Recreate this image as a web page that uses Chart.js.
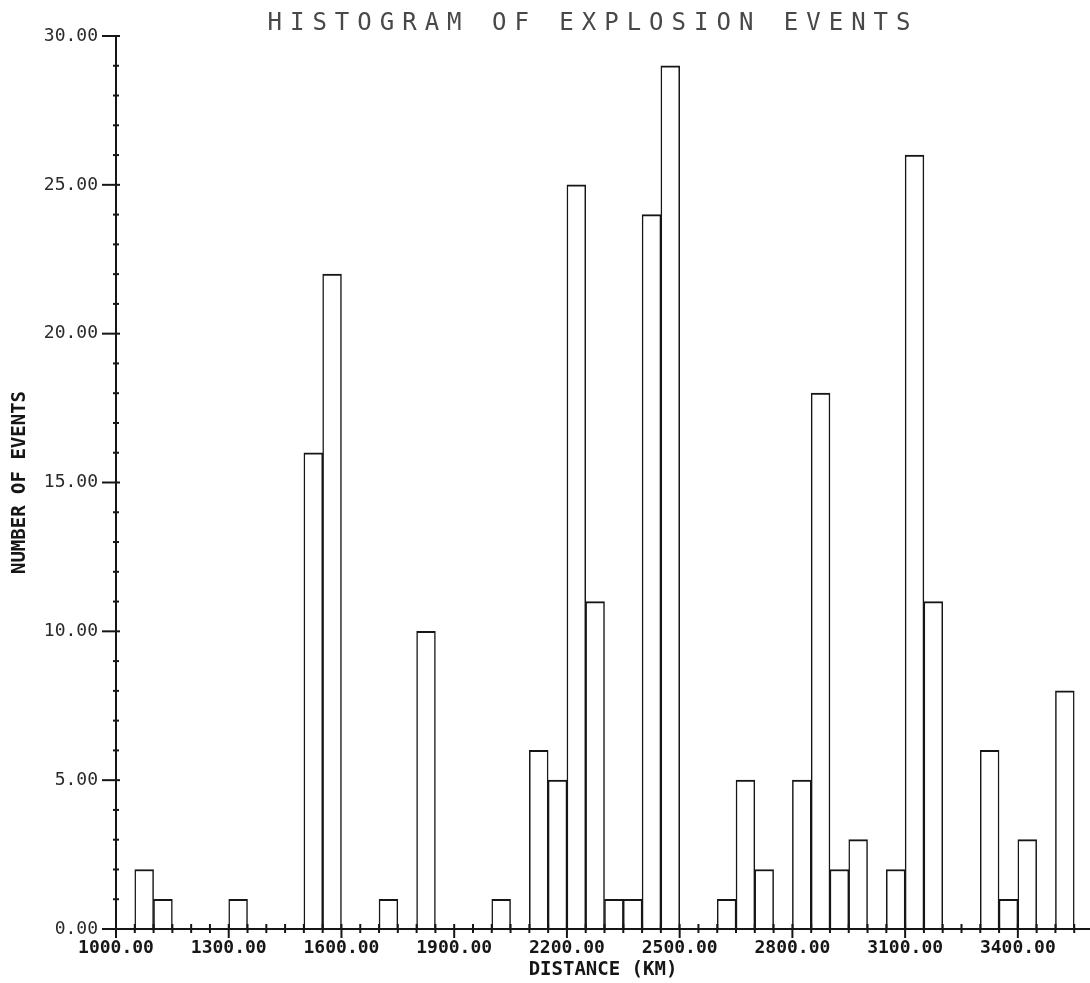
<!DOCTYPE html>
<html lang="en">
  <head>
    <meta charset="UTF-8" />
    <title>Histogram of explosion events</title>
    <script src="https://cdn.jsdelivr.net/npm/chart.js@4.4.1/dist/chart.umd.min.js"></script>
    <style>
      body { margin: 0; background: #ffffff; }
      #wrap { width: 1090px; height: 983px; }
    </style>
  </head>
  <body>
    <div id="wrap"><canvas id="histo" width="1090" height="983"></canvas></div>
    <script>
      // 50 km distance bins (start of each bin) and event counts per bin
      var binStarts = [
        1000, 1050, 1100, 1150, 1200, 1250, 1300, 1350, 1400, 1450,
        1500, 1550, 1600, 1650, 1700, 1750, 1800, 1850, 1900, 1950,
        2000, 2050, 2100, 2150, 2200, 2250, 2300, 2350, 2400, 2450,
        2500, 2550, 2600, 2650, 2700, 2750, 2800, 2850, 2900, 2950,
        3000, 3050, 3100, 3150, 3200, 3250, 3300, 3350, 3400, 3450,
        3500
      ];
      var counts = [
        0, 2, 1, 0, 0, 0, 1, 0, 0, 0,
        16, 22, 0, 0, 1, 0, 10, 0, 0, 0,
        1, 0, 6, 5, 25, 11, 1, 1, 24, 29,
        0, 0, 1, 5, 2, 0, 5, 18, 2, 3,
        0, 2, 26, 11, 0, 0, 6, 1, 3, 0,
        8
      ];
      var binWidth = 50;
      // labelled distances on the x axis, labelled counts on the y axis
      var distanceLabels = [1000, 1300, 1600, 1900, 2200, 2500, 2800, 3100, 3400];
      var countLabels = [0, 5, 10, 15, 20, 25, 30];

      var ink = "#161616";
      var mono = "'DejaVu Sans Mono', monospace";

      // title in the thin, widely spaced plotter lettering
      var plotterTitle = {
        id: "plotterTitle",
        afterDraw: function (chart) {
          var ctx = chart.ctx;
          ctx.save();
          ctx.font = "24px " + mono;
          ctx.fillStyle = "#484848";
          ctx.textAlign = "center";
          ctx.textBaseline = "middle";
          if ("letterSpacing" in ctx) ctx.letterSpacing = "8px";
          ctx.fillText("HISTOGRAM OF EXPLOSION EVENTS", 593, 24);
          ctx.restore();
        }
      };

      // axis lines with cross-style tick marks (minor every bin / every event)
      var plotterAxes = {
        id: "plotterAxes",
        afterDatasetsDraw: function (chart) {
          var ctx = chart.ctx;
          var x = chart.scales.x;
          var y = chart.scales.y;
          var y0 = y.getPixelForValue(0);
          var yTop = y.getPixelForValue(y.max);
          var xl = x.getPixelForValue(x.min);
          ctx.save();
          ctx.strokeStyle = ink;
          ctx.lineWidth = 2;
          ctx.beginPath();
          ctx.moveTo(xl, y0);
          ctx.lineTo(x.right, y0);
          ctx.moveTo(xl, yTop);
          ctx.lineTo(xl, y0);
          ctx.stroke();

          x.ticks.forEach(function (t) {
            var px = x.getPixelForValue(t.value);
            var major = distanceLabels.indexOf(t.value) >= 0;
            ctx.beginPath();
            ctx.moveTo(px, y0 - 5);
            ctx.lineTo(px, y0 + (major ? 9 : 4));
            ctx.stroke();
          });

          for (var v = y.min; v <= y.max; v++) {
            var py = y.getPixelForValue(v);
            var major = countLabels.indexOf(v) >= 0;
            ctx.beginPath();
            ctx.moveTo(xl - (major ? 14 : 3), py);
            ctx.lineTo(xl + (major ? 4 : 3), py);
            ctx.stroke();
          }
          ctx.restore();
        }
      };

      new Chart(document.getElementById("histo"), {
        type: "bar",
        data: {
          datasets: [
            {
              data: binStarts.map(function (s, i) {
                return { x: s + binWidth / 2, y: counts[i] };
              }),
              backgroundColor: "#ffffff",
              borderColor: ink,
              borderWidth: { top: 2, left: 1.5, right: 1.5, bottom: 0 },
              borderSkipped: "start",
              barPercentage: 1,
              categoryPercentage: 1
            }
          ]
        },
        options: {
          responsive: false,
          animation: false,
          layout: { padding: { top: 36, right: 0, bottom: 0, left: 0 } },
          plugins: {
            legend: { display: false },
            tooltip: { enabled: false }
          },
          scales: {
            x: {
              type: "linear",
              offset: false,
              min: 1000,
              max: 3592,
              grid: { display: false, drawTicks: false },
              border: { display: false },
              ticks: {
                stepSize: binWidth,
                includeBounds: false,
                autoSkip: false,
                maxRotation: 0,
                padding: 9,
                color: ink,
                font: { family: mono, size: 18, weight: "bold" },
                callback: function (v) {
                  return distanceLabels.indexOf(v) >= 0 ? v.toFixed(2) : "";
                }
              },
              title: {
                display: true,
                text: "DISTANCE (KM)",
                color: ink,
                font: { family: mono, size: 19, weight: "bold" },
                padding: { top: 0, bottom: 2 }
              },
              afterFit: function (s) { s.height = 54; }
            },
            y: {
              min: 0,
              max: 30,
              grid: { display: false, drawTicks: false },
              border: { display: false },
              ticks: {
                stepSize: 5,
                padding: 18,
                color: "#2a2a2a",
                font: { family: mono, size: 18 },
                callback: function (v) { return v.toFixed(2); }
              },
              title: {
                display: true,
                text: "NUMBER OF EVENTS",
                color: ink,
                font: { family: mono, size: 19, weight: "bold" },
                padding: { top: 9, bottom: 0 }
              },
              afterFit: function (s) { s.width = 116; }
            }
          }
        },
        plugins: [plotterAxes, plotterTitle]
      });
    </script>
  </body>
</html>
